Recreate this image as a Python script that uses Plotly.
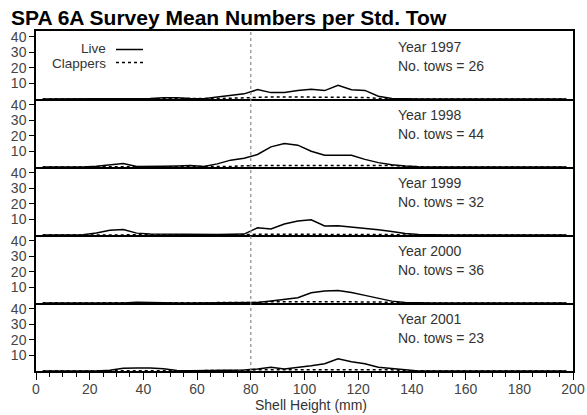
import plotly.graph_objects as go
from plotly.subplots import make_subplots

# Shell height bin centres (mm)
shell_height = [2.5 + 5 * i for i in range(40)]

years = [1997, 1998, 1999, 2000, 2001]
tows = [26, 44, 32, 36, 23]

live_1997 = [0, 0, 0, 0, 0, 0, 0, 0, 0.3, 0.8, 0.8, 0.3, 0.2, 1.3, 2.4, 3.3, 6.0, 4.1, 4.1, 5.4,
             6.2, 5.4, 8.8, 6.0, 5.5, 1.8, 0.3, 0, 0, 0, 0, 0, 0, 0, 0, 0, 0, 0, 0, 0]
clap_1997 = [0, 0, 0, 0, 0, 0, 0, 0, 0, 0, 0, 0, 0, 0.3, 0.5, 0.8, 1.3, 1.3, 1.3, 1.3,
             1.3, 1.3, 1.0, 1.0, 1.0, 0.4, 0, 0, 0, 0, 0, 0, 0, 0, 0, 0, 0, 0, 0, 0]

live_1998 = [0, 0, 0, 0, 0.5, 1.5, 2.2, 0.3, 0.2, 0.5, 0.7, 1.0, 0.3, 2.0, 4.4, 5.6, 8.0, 12.9, 15.0, 14.0,
             10.1, 7.5, 7.5, 7.5, 4.9, 2.8, 1.5, 0.6, 0.2, 0, 0, 0, 0, 0, 0, 0, 0, 0, 0, 0]
clap_1998 = [0, 0, 0, 0, 0, 0, 0, 0, 0, 0, 0, 0, 0, 0, 0.3, 0.8, 1.0, 1.0, 1.0, 1.0,
             1.0, 1.0, 1.0, 1.0, 1.0, 1.0, 1.0, 0.4, 0, 0, 0, 0, 0, 0, 0, 0, 0, 0, 0, 0]

live_1999 = [0, 0, 0, 0.2, 1.3, 3.0, 3.5, 1.2, 0.6, 0.5, 0.5, 0.4, 0.3, 0.4, 0.5, 0.6, 4.6, 3.9, 7.0, 9.0,
             9.7, 5.8, 6.0, 5.2, 4.2, 3.3, 2.3, 1.0, 0.3, 0, 0, 0, 0, 0, 0, 0, 0, 0, 0, 0]
clap_1999 = [0, 0, 0, 0, 0, 0, 0, 0, 0, 0, 0, 0, 0, 0, 0, 0.2, 0.5, 0.5, 0.5, 0.5,
             0.6, 0.5, 0.5, 0.5, 0.5, 0.4, 0.3, 0, 0, 0, 0, 0, 0, 0, 0, 0, 0, 0, 0, 0]

live_2000 = [0, 0, 0, 0, 0, 0, 0, 0.5, 0.2, 0, 0, 0, 0, 0, 0, 0, 0.4, 1.3, 2.4, 3.4,
             6.6, 7.7, 8.0, 6.7, 4.9, 3.0, 1.2, 0.3, 0, 0, 0, 0, 0, 0, 0, 0, 0, 0, 0, 0]
clap_2000 = [0, 0, 0, 0, 0, 0, 0, 0, 0, 0, 0, 0, 0, 0, 0, 0, 0.3, 0.8, 0.8, 0.8,
             0.8, 0.8, 0.8, 0.8, 0.8, 0.7, 0.3, 0, 0, 0, 0, 0, 0, 0, 0, 0, 0, 0, 0, 0]

live_2001 = [0, 0, 0, 0, 0, 0.5, 1.8, 2.0, 2.0, 1.5, 0.3, 0.2, 0.4, 0.6, 0.5, 0.6, 1.3, 2.4, 1.3, 2.2,
             3.3, 4.7, 7.8, 6.0, 4.7, 2.4, 1.6, 0.6, 0, 0, 0, 0, 0, 0, 0, 0, 0, 0, 0, 0]
clap_2001 = [0, 0, 0, 0, 0, 0, 0, 0, 0, 0, 0, 0, 0, 0, 0, 0.3, 0.8, 0.8, 0.8, 0.8,
             0.8, 0.8, 0.8, 0.8, 0.8, 0.8, 0.8, 0.2, 0, 0, 0, 0, 0, 0, 0, 0, 0, 0, 0, 0]

live_series = [live_1997, live_1998, live_1999, live_2000, live_2001]
clap_series = [clap_1997, clap_1998, clap_1999, clap_2000, clap_2001]

y_ticks = [10, 20, 30, 40]
x_ticks = list(range(0, 201, 20))

FONT = "Liberation Sans, Arial, Helvetica, sans-serif"

fig = make_subplots(rows=5, cols=1, shared_xaxes=True, vertical_spacing=0)

for i in range(5):
    r = i + 1
    fig.add_trace(go.Scatter(x=shell_height, y=live_series[i], mode="lines",
                             line=dict(color="black", width=1.5), showlegend=False),
                  row=r, col=1)
    fig.add_trace(go.Scatter(x=shell_height, y=clap_series[i], mode="lines",
                             line=dict(color="black", width=1.5, dash="3px,3px"), showlegend=False),
                  row=r, col=1)
    fig.update_yaxes(row=r, col=1, range=[0, 43.6], tickvals=y_ticks, ticks="outside",
                     ticklen=5, tickwidth=1.2, tickcolor="black", showline=True, mirror=True,
                     linecolor="black", linewidth=1.5, showgrid=False, zeroline=False,
                     automargin=False,
                     tickfont=dict(family=FONT, size=14, color="#444"))
    fig.update_xaxes(row=r, col=1, range=[0, 200], showline=True, linecolor="black",
                     linewidth=1.5, showgrid=False, zeroline=False, automargin=False,
                     mirror=(r == 1), ticks="" if r < 5 else "outside",
                     showticklabels=(r == 5))
    dom = "y domain" if r == 1 else f"y{r} domain"
    fig.add_annotation(x=134, y=0.765, xref="x", yref=dom, text=f"Year {years[i]}",
                       showarrow=False, xanchor="left", yanchor="middle",
                       font=dict(family=FONT, size=14, color="#333"))
    fig.add_annotation(x=134, y=0.49, xref="x", yref=dom, text=f"No. tows = {tows[i]}",
                       showarrow=False, xanchor="left", yanchor="middle",
                       font=dict(family=FONT, size=14, color="#333"))

fig.update_xaxes(row=5, col=1, tickvals=x_ticks, ticklen=7, tickwidth=1.2, tickcolor="black",
                 ticklabelstandoff=-3,
                 tickfont=dict(family=FONT, size=14, color="#444"),
                 minor=dict(dtick=5, ticks="outside", ticklen=4, tickcolor="black", tickwidth=1))

# dotted reference line at 80 mm
fig.add_shape(type="line", x0=80, x1=80, xref="x", y0=0, y1=1, yref="paper",
              line=dict(color="#888", width=1.2, dash="dot"))

# legend (text then line sample)
fig.add_annotation(x=(108 - 36) / 537, y=1 - (48 - 31) / 340, xref="paper", yref="paper",
                   text="Live", showarrow=False, xanchor="right", yanchor="middle",
                   font=dict(family=FONT, size=13.5, color="#333"))
fig.add_annotation(x=(108 - 36) / 537, y=1 - (63 - 31) / 340, xref="paper", yref="paper",
                   text="Clappers", showarrow=False, xanchor="right", yanchor="middle",
                   font=dict(family=FONT, size=13.5, color="#333"))
fig.add_shape(type="line", xref="paper", yref="paper",
              x0=(116 - 36) / 537, x1=(143 - 36) / 537,
              y0=1 - (49.5 - 31) / 340, y1=1 - (49.5 - 31) / 340,
              line=dict(color="black", width=1.5))
fig.add_shape(type="line", xref="paper", yref="paper",
              x0=(116 - 36) / 537, x1=(143 - 36) / 537,
              y0=1 - (62.5 - 31) / 340, y1=1 - (62.5 - 31) / 340,
              line=dict(color="black", width=1.3, dash="3px,3px"))

# x axis title
fig.add_annotation(x=(311 - 36) / 537, y=1 - (405 - 31) / 340, xref="paper", yref="paper",
                   text="Shell Height (mm)", showarrow=False, xanchor="center", yanchor="middle",
                   font=dict(family=FONT, size=14, color="#333"))

fig.update_layout(
    width=587, height=415,
    margin=dict(l=36, r=14, t=31, b=44, autoexpand=False),
    paper_bgcolor="white", plot_bgcolor="white",
    showlegend=False,
    title=dict(text="<b>SPA 6A Survey Mean Numbers per Std. Tow</b>",
               x=11 / 587, xanchor="left", xref="container",
               y=1 - 17.5 / 415, yanchor="middle", yref="container",
               font=dict(family=FONT, size=21, color="black")),
)

fig.write_html("out.html")
